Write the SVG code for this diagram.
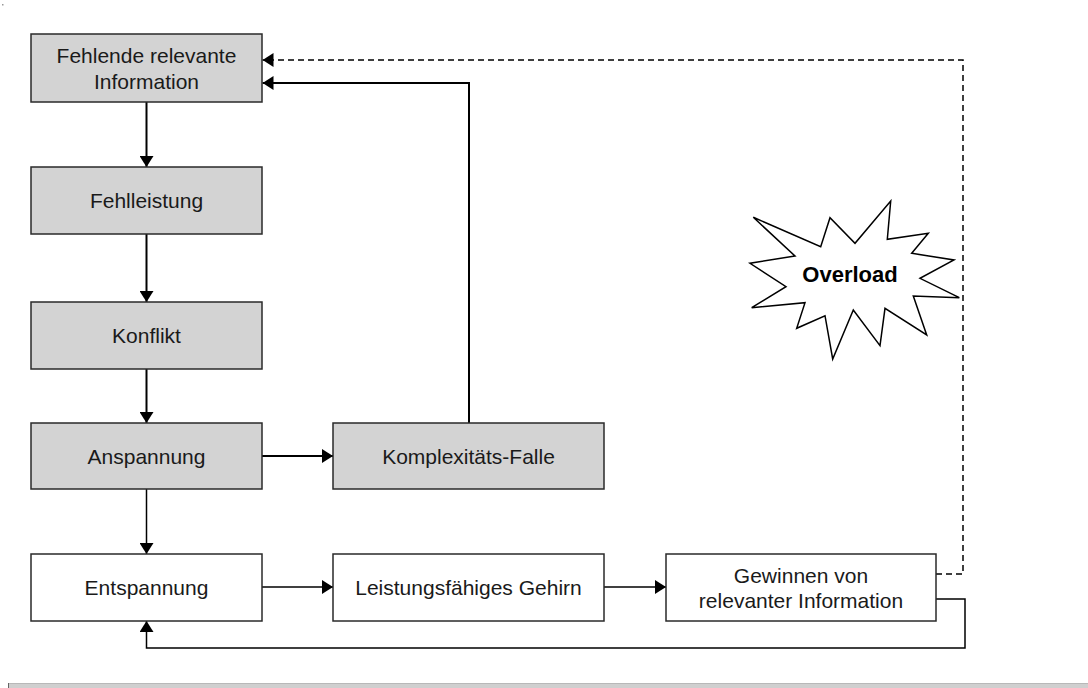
<svg xmlns="http://www.w3.org/2000/svg" width="1088" height="688" viewBox="0 0 1088 688">
<style>
.box{stroke:#2a2a2a;stroke-width:1.5}
.g{fill:#d3d3d3}
.w{fill:#ffffff}
.t{font-family:"Liberation Sans",Arial,sans-serif;font-size:21px;fill:#1a1a1a;text-anchor:middle}
.c{fill:none;stroke:#000;stroke-width:2}
.thin{stroke-width:1.5}
.dash{stroke-dasharray:6 4;stroke-width:1.5}
</style>
<defs>
<marker id="ah" markerUnits="userSpaceOnUse" markerWidth="11" markerHeight="14" refX="11" refY="7" orient="auto">
<path d="M0,0L11,7L0,14z" fill="#000"/>
</marker>
</defs>
<rect x="0" y="0" width="1088" height="688" fill="#fff"/>
<rect x="2" y="4" width="1.5" height="1.5" fill="#999"/>
<g id="connectors">
<line class="c" x1="146.5" y1="102" x2="146.5" y2="167" marker-end="url(#ah)"/>
<line class="c" x1="146.5" y1="234" x2="146.5" y2="302" marker-end="url(#ah)"/>
<line class="c" x1="146.5" y1="369" x2="146.5" y2="423" marker-end="url(#ah)"/>
<line class="c thin" x1="146.5" y1="489" x2="146.5" y2="554" marker-end="url(#ah)"/>
<line class="c" x1="262" y1="456" x2="333" y2="456" marker-end="url(#ah)"/>
<polyline class="c" points="469,423 469,83 262.5,83" marker-end="url(#ah)"/>
<line class="c thin" x1="262" y1="587" x2="333" y2="587" marker-end="url(#ah)"/>
<line class="c thin" x1="604" y1="587" x2="666" y2="587" marker-end="url(#ah)"/>
<polyline class="c thin" points="936,599 965,599 965,648 146.5,648 146.5,621" marker-end="url(#ah)"/>
<polyline class="c dash" points="936,574 963,574 963,60 262.5,60" marker-end="url(#ah)"/>
</g>
<g id="n1"><rect class="box g" x="31" y="34" width="231" height="68"/><text class="t" x="146.5" y="62.5">Fehlende relevante</text><text class="t" x="146.5" y="88.5">Information</text></g>
<g id="n2"><rect class="box g" x="31" y="167" width="231" height="67"/><text class="t" x="146.5" y="208">Fehlleistung</text></g>
<g id="n3"><rect class="box g" x="31" y="302" width="231" height="67"/><text class="t" x="146.5" y="343">Konflikt</text></g>
<g id="n4"><rect class="box g" x="31" y="423" width="231" height="66"/><text class="t" x="146.5" y="463.5">Anspannung</text></g>
<g id="n5"><rect class="box g" x="333" y="423" width="271" height="66"/><text class="t" x="468.5" y="463.5">Komplexitäts-Falle</text></g>
<g id="n6"><rect class="box w" x="31" y="554" width="231" height="67"/><text class="t" x="146.5" y="595">Entspannung</text></g>
<g id="n7"><rect class="box w" x="333" y="554" width="271" height="67"/><text class="t" x="468.5" y="595">Leistungsfähiges Gehirn</text></g>
<g id="n8"><rect class="box w" x="666" y="554" width="270" height="67"/><text class="t" x="801" y="582.5">Gewinnen von</text><text class="t" x="801" y="608">relevanter Information</text></g>
<g id="overload">
<polygon points="753.3,217.3 820.7,246.7 830,217.7 855,243.3 890.7,201 887.3,239.3 928.3,233.3 911.7,253.3 954,260 920,278.3 959.3,297.7 913.3,296 926.7,335 885,308.3 880,345.7 853.3,310 832.7,359 825,315.7 796.7,328.3 805,302.7 751.7,307.7 786,286.7 750,263.3 795,256" fill="#fff" stroke="#000" stroke-width="1.5" stroke-linejoin="miter"/>
<text x="850" y="282" style="font-family:'Liberation Sans',Arial,sans-serif;font-size:22px;font-weight:bold;fill:#000;text-anchor:middle">Overload</text>
</g>
<g id="bar">
<rect x="8" y="683" width="1080" height="5" fill="#cfcfcf"/>
<line x1="8" y1="683.5" x2="1088" y2="683.5" stroke="#b8b8b8" stroke-width="1"/>
<line x1="8.5" y1="683" x2="8.5" y2="688" stroke="#666" stroke-width="1"/>
</g>
</svg>
